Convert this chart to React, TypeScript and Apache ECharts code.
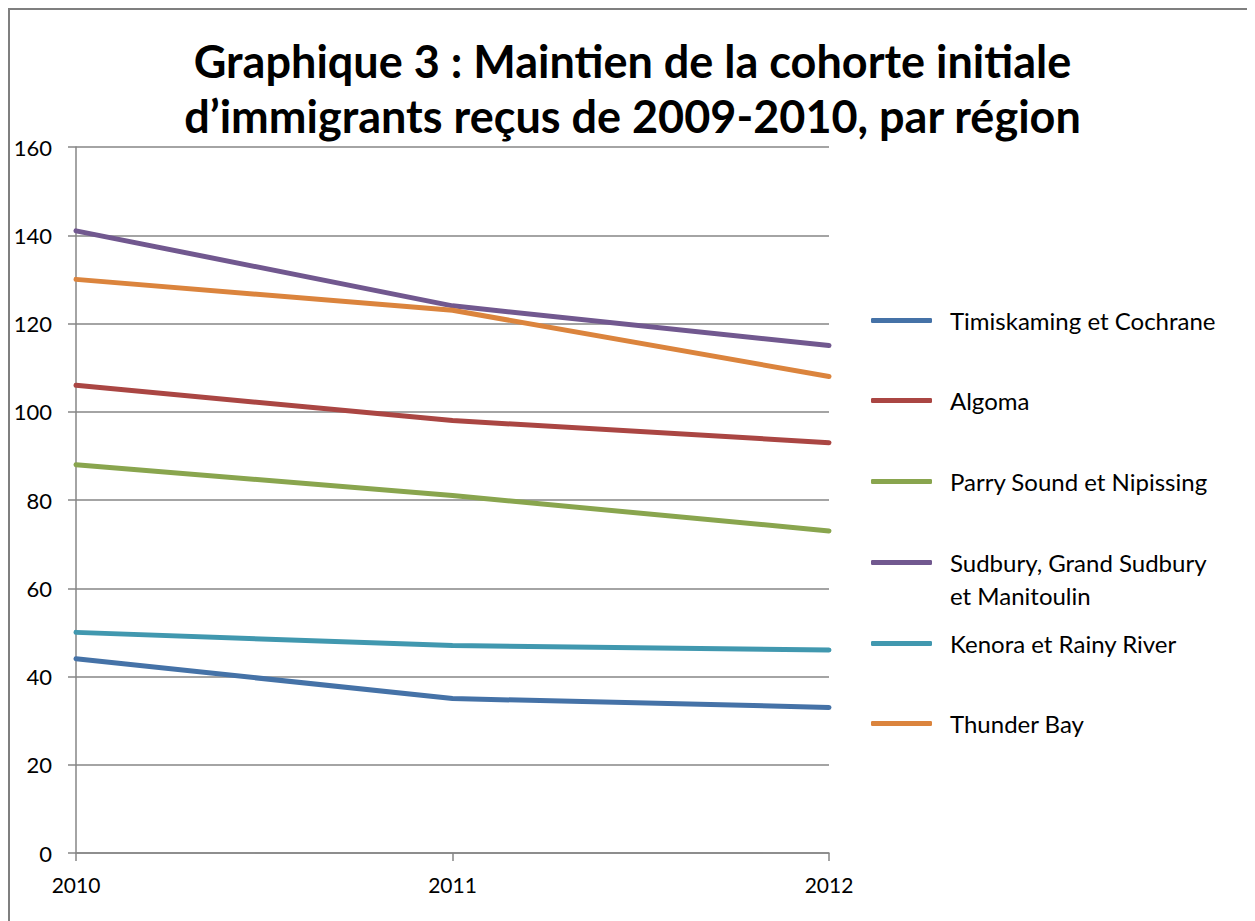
import React, { useEffect, useRef } from "react";
import * as echarts from "echarts";

const years = ["2010", "2011", "2012"];
const seriesNames = [
  "Timiskaming et Cochrane",
  "Algoma",
  "Parry Sound et Nipissing",
  "Sudbury, Grand Sudbury et Manitoulin",
  "Kenora et Rainy River",
  "Thunder Bay",
];
const timiskaming = [44, 35, 33];
const algoma = [106, 98, 93];
const parrySound = [88, 81, 73];
const sudbury = [141, 124, 115];
const kenora = [50, 47, 46];
const thunderBay = [130, 123, 108];
const colors = ["#4572A7", "#AA4643", "#89A54E", "#71588F", "#4198AF", "#DB843D"];
const yTicks = { min: 0, max: 160, interval: 20 };

const FONT = "Lato, 'Open Sans', sans-serif";
const SUDBURY = "Sudbury, Grand Sudbury et Manitoulin";

export default function App() {
  const ref = useRef<HTMLDivElement>(null);
  useEffect(() => {
    if (!ref.current) return;
    const chart = echarts.init(ref.current, null, { renderer: "svg" });
    const values = [timiskaming, algoma, parrySound, sudbury, kenora, thunderBay];
    const legendTops = [320, 400, 481, 562, 643, 723];
    const legends = seriesNames.map((name, i) => {
      const multi = name === SUDBURY;
      return {
        show: true,
        orient: "vertical",
        left: 856,
        top: multi ? legendTops[i] - 10 - 54 : legendTops[i] - 10 - 21,
        icon: "roundRect",
        itemWidth: 61,
        itemHeight: 5,
        data: [name],
        formatter: (n: string) => (n === SUDBURY ? " \nSudbury, Grand Sudbury\net Manitoulin" : n),
        textStyle: {
          fontFamily: FONT,
          fontSize: 24,
          color: "#000",
          lineHeight: 33,
          padding: [0, 0, 0, 13],
        },
        selectedMode: false,
      };
    });
    chart.setOption({
      animation: false,
      backgroundColor: "#fff",
      color: colors,
      title: {
        text: "Graphique 3 : Maintien de la cohorte initiale\nd\u2019immigrants re\u00e7us de 2009-2010, par r\u00e9gion",
        left: "center",
        top: 18,
        textStyle: {
          fontFamily: FONT,
          fontWeight: "bold",
          fontSize: 45,
          lineHeight: 55,
          color: "#000",
        },
      },
      legend: legends,
      grid: { left: 66, top: 137, width: 753, height: 706, containLabel: false },
      xAxis: {
        type: "category",
        data: years,
        boundaryGap: false,
        axisLine: { show: true, lineStyle: { color: "#868686", width: 1.5 } },
        axisTick: { show: true, length: 8, lineStyle: { color: "#868686", width: 1.5 } },
        axisLabel: { fontFamily: FONT, fontSize: 21, color: "#000", margin: 21 },
        splitLine: { show: false },
      },
      yAxis: {
        type: "value",
        min: yTicks.min,
        max: yTicks.max,
        interval: yTicks.interval,
        axisLine: { show: true, lineStyle: { color: "#868686", width: 1.5 } },
        axisTick: { show: true, length: 8, lineStyle: { color: "#868686", width: 1.5 } },
        axisLabel: { fontFamily: FONT, fontSize: 22, color: "#000", margin: 24 },
        splitLine: { show: true, lineStyle: { color: "#868686", width: 1.5 } },
      },
      series: seriesNames.map((name, i) => ({
        name,
        type: "line",
        data: values[i],
        symbol: "none",
        lineStyle: { width: 5, color: colors[i], cap: "round", join: "round" },
        itemStyle: { color: colors[i] },
      })),
    });
    return () => chart.dispose();
  }, []);
  return (
    <div
      style={{
        width: 1245,
        height: 911,
        borderTop: "2px solid #7f7f7f",
        borderLeft: "2px solid #7f7f7f",
      }}
    >
      <div ref={ref} style={{ width: 1245, height: 911 }} />
    </div>
  );
}
